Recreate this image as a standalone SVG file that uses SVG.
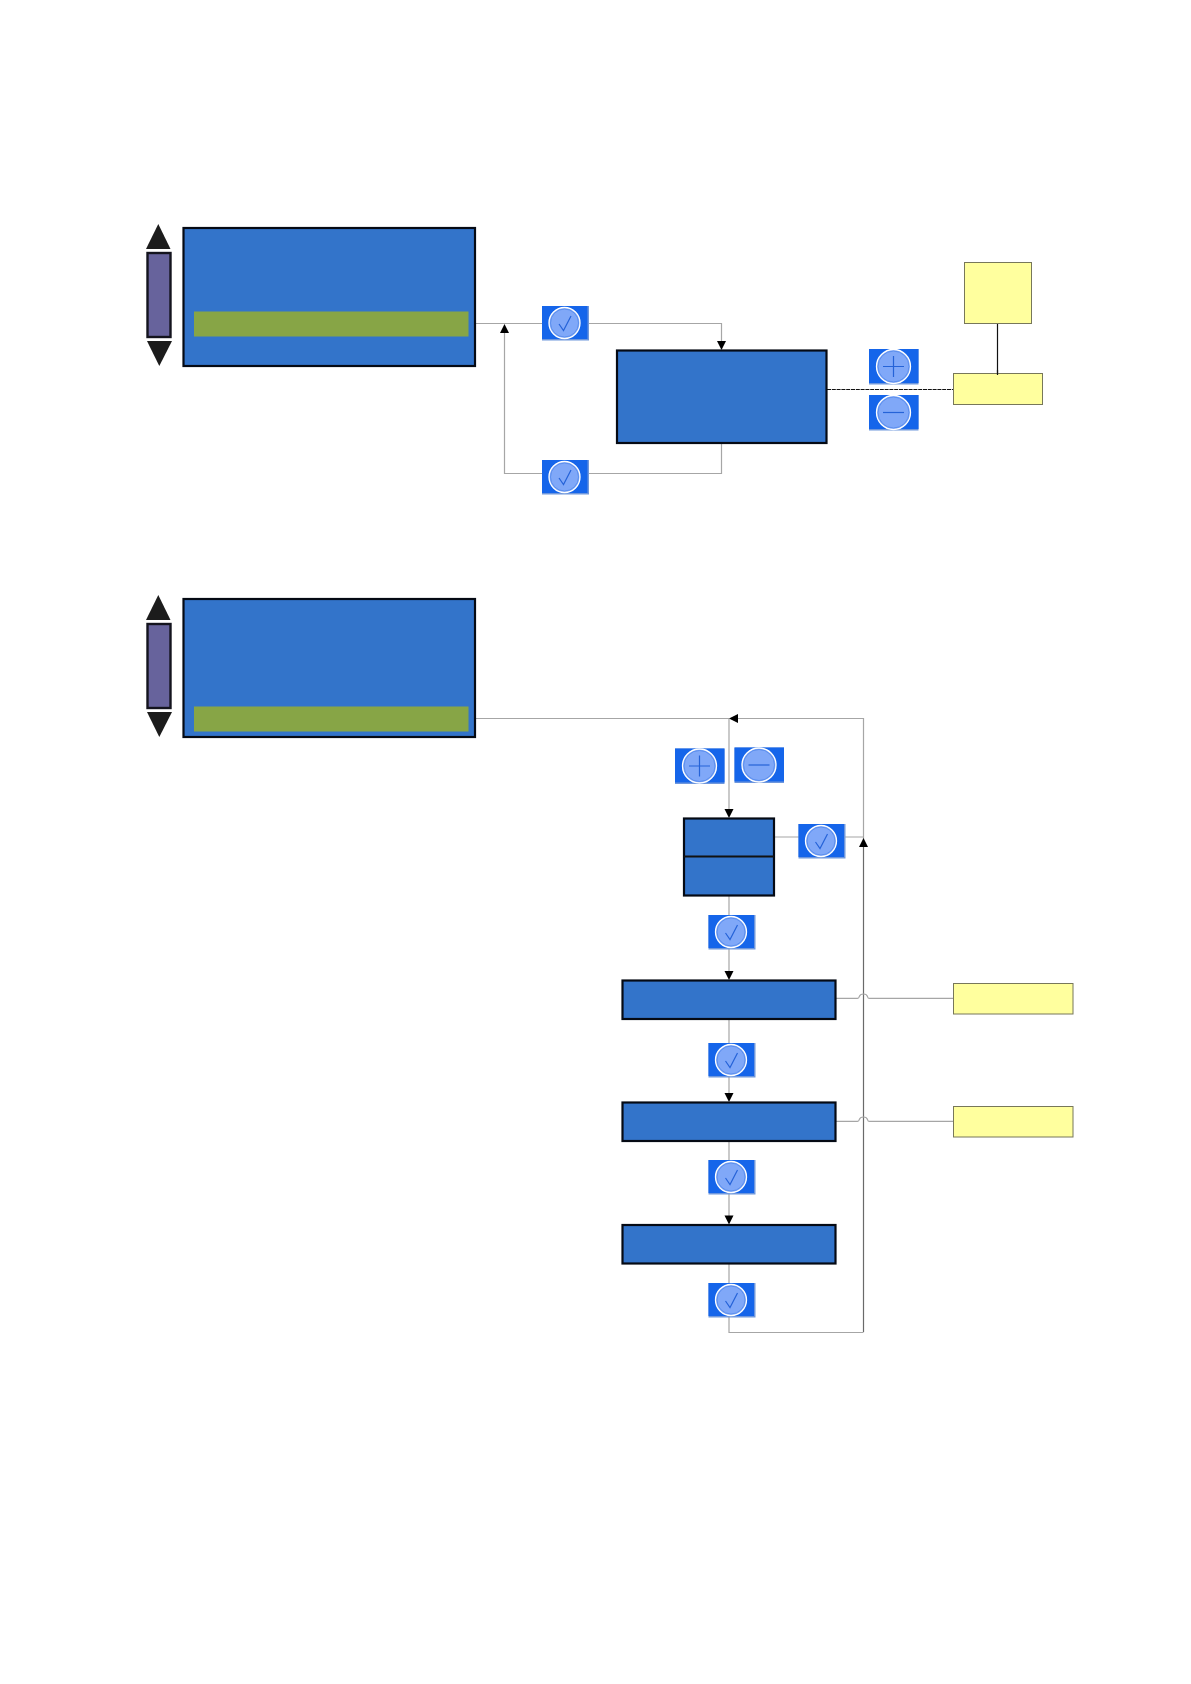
<svg xmlns="http://www.w3.org/2000/svg" xmlns:xlink="http://www.w3.org/1999/xlink" width="1191" height="1684" viewBox="0 0 1191 1684">
<style>
.box{fill:#3374ca;stroke:#050a14;stroke-width:2.2}
.bar{fill:#87a546}
.scroll{fill:#67639c;stroke:#14141e;stroke-width:2.4}
.tri{fill:#1c1c1c}
.note{fill:#ffff9e;stroke:#77775a;stroke-width:1}
.c{fill:none;stroke:#a6a6a6;stroke-width:1.2}
.d{fill:none;stroke:#6a6a6a;stroke-width:1.2}
.k{fill:none;stroke:#111;stroke-width:1.2}
.ah{fill:#000}
.btnE{fill:#6f97dc}
.btn{fill:#1565ea}
.ring{fill:#80a8f8;stroke:#fff;stroke-width:1.3}
.inner{fill:none;stroke:#5288ea;stroke-width:0.8}
.g{fill:none;stroke:#2563d8;stroke-width:1.2}
</style>
<defs>
<g id="ok">
<rect class="btnE" x="0" y="0" width="47" height="34.5"/>
<rect class="btn" x="0" y="0" width="45.5" height="33"/>
<circle class="ring" cx="22.5" cy="17" r="15.5"/>
<circle class="inner" cx="22.5" cy="17" r="14"/>
<path class="g" d="M17 18 L21.5 24.5 L29 10"/>
</g>
<g id="plus">
<rect class="btnE" x="0" y="0" width="49.5" height="35.5"/>
<rect class="btn" x="0" y="0" width="49.5" height="34"/>
<circle class="ring" cx="24.5" cy="17.5" r="17"/>
<circle class="inner" cx="24.5" cy="17.5" r="15.5"/>
<path class="g" d="M14 17.5 H35 M24.5 7 V28"/>
</g>
<g id="minus">
<rect class="btnE" x="0" y="0" width="49.5" height="35.5"/>
<rect class="btn" x="0" y="0" width="49.5" height="34"/>
<circle class="ring" cx="24.5" cy="17.5" r="17"/>
<circle class="inner" cx="24.5" cy="17.5" r="15.5"/>
<path class="g" d="M14 17.5 H35"/>
</g>
<path id="dn" class="ah" d="M-4.5 -9 H4.5 L0 0 Z"/>
<path id="up" class="ah" d="M-4.5 9 H4.5 L0 0 Z"/>
</defs>

<g id="connectors">
<path class="c" d="M475 323.5 H721.5 V342"/>
<path class="c" d="M721.5 443 V473.5 H504.5 V333"/>
<path class="k" style="stroke-width:1" stroke-dasharray="4 0.8" d="M827 389.5 H953"/>
<path class="k" d="M997.5 323 V375"/>
<path class="c" d="M469 718.5 H729"/>
<path class="c" d="M738 718.5 H863.5 V846"/>
<path class="d" d="M863.5 846 V1332"/>
<path class="c" d="M729 718.5 V810"/>
<path class="c" d="M773.5 837 H863.5"/>
<path class="c" d="M729 894 V972"/>
<path class="c" d="M729 1018.5 V1094"/>
<path class="c" d="M729 1140.5 V1216"/>
<path class="c" d="M729 1263 V1332.5 H863.5"/>
<path class="c" d="M836 998.3 H857.5 Q859 998.3 859.3 996.5 Q860 994 863.5 994 Q866.8 994 867.5 996.5 Q867.8 998.3 869 998.3 H953"/>
<path class="c" d="M836 1121.3 H857.5 Q859 1121.3 859.3 1119.5 Q860 1117 863.5 1117 Q866.8 1117 867.5 1119.5 Q867.8 1121.3 869 1121.3 H953"/>
<use href="#dn" x="721.5" y="350"/>
<use href="#up" x="504.5" y="324"/>
<path class="ah" d="M729 718.5 L738 714 V723 Z"/>
<use href="#dn" x="729" y="818"/>
<use href="#up" x="863.5" y="838"/>
<use href="#dn" x="729" y="980"/>
<use href="#dn" x="729" y="1102"/>
<use href="#dn" x="729" y="1224.5"/>
</g>

<g id="menu-1">
<rect class="box" x="183.5" y="228" width="291.5" height="138"/>
<rect class="bar" x="194" y="311.5" width="274.5" height="25"/>
</g>
<g id="scroll-1">
<path class="tri" d="M158.3 224 L170.5 249 H146 Z"/>
<rect class="scroll" x="147.5" y="253" width="23" height="84"/>
<path class="tri" d="M147 341 H172 L159.3 366 Z"/>
</g>
<g id="edit-box"><rect class="box" x="617" y="350.5" width="209.5" height="92.5"/></g>
<g id="note-1"><rect class="note" x="964.5" y="262.5" width="67" height="61"/></g>
<g id="note-2"><rect class="note" x="953.5" y="373.5" width="89" height="31"/></g>
<g id="note-link"><path class="k" d="M997.5 370 V375"/></g>
<g id="btn-ok-1"><use href="#ok" x="542" y="306"/></g>
<g id="btn-ok-2"><use href="#ok" x="542" y="460"/></g>
<g id="btn-plus-1"><use href="#plus" x="869" y="349"/></g>
<g id="btn-minus-1"><use href="#minus" x="869" y="395"/></g>

<g id="menu-2">
<rect class="box" x="183.5" y="599" width="291.5" height="138"/>
<rect class="bar" x="194" y="706.5" width="274.5" height="25"/>
</g>
<g id="scroll-2">
<path class="tri" d="M158.3 595 L170.5 620 H146 Z"/>
<rect class="scroll" x="147.5" y="624" width="23" height="84"/>
<path class="tri" d="M147 712 H172 L159.3 737 Z"/>
</g>
<g id="btn-plus-2"><use href="#plus" x="675" y="748.5"/></g>
<g id="btn-minus-2"><use href="#minus" x="734.5" y="747.5"/></g>
<g id="split-box">
<rect class="box" x="684" y="818.5" width="90" height="77"/>
<path class="k" style="stroke-width:2.2" d="M684 856.5 H774"/>
</g>
<g id="btn-ok-3"><use href="#ok" x="798.5" y="824"/></g>
<g id="btn-ok-4"><use href="#ok" x="708.5" y="915"/></g>
<g id="step-1"><rect class="box" x="622.5" y="980.5" width="213" height="38.5"/></g>
<g id="btn-ok-5"><use href="#ok" x="708.5" y="1043"/></g>
<g id="step-2"><rect class="box" x="622.5" y="1102.5" width="213" height="38.5"/></g>
<g id="btn-ok-6"><use href="#ok" x="708.5" y="1160"/></g>
<g id="step-3"><rect class="box" x="622.5" y="1225" width="213" height="38.5"/></g>
<g id="btn-ok-7"><use href="#ok" x="708.5" y="1283"/></g>
<g id="note-3"><rect class="note" x="953.5" y="983.5" width="119.5" height="30.5"/></g>
<g id="note-4"><rect class="note" x="953.5" y="1106.5" width="119.5" height="30.5"/></g>
</svg>
